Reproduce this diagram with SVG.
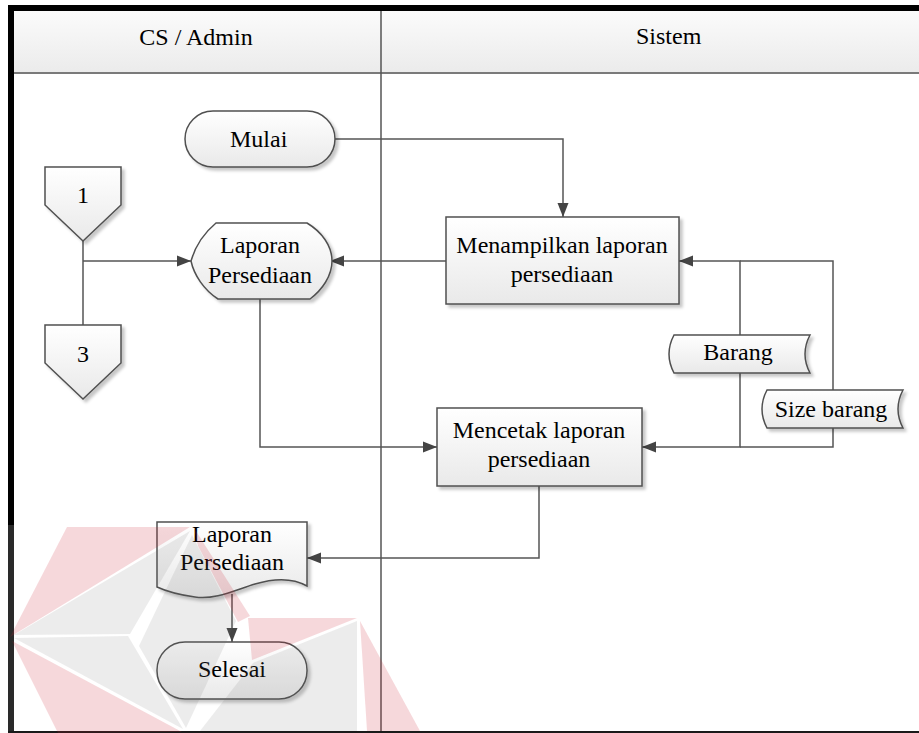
<svg xmlns="http://www.w3.org/2000/svg" width="919" height="733" viewBox="0 0 919 733">
  <defs>
    <linearGradient id="shapeFill" x1="0" y1="0" x2="0" y2="1">
      <stop offset="0" stop-color="#ffffff"/>
      <stop offset="1" stop-color="#e9e9e9"/>
    </linearGradient>
    <linearGradient id="headerFill" x1="0" y1="0" x2="0" y2="1">
      <stop offset="0" stop-color="#fbfbfb"/>
      <stop offset="1" stop-color="#ebebeb"/>
    </linearGradient>
    <filter id="shadow" x="-10%" y="-10%" width="130%" height="140%">
      <feDropShadow dx="3" dy="3" stdDeviation="1.5" flood-color="#000" flood-opacity="0.22"/>
    </filter>
    <marker id="arrowHead" markerUnits="userSpaceOnUse" markerWidth="14" markerHeight="12" refX="14" refY="6" orient="auto">
      <path d="M0,0.5 L14,6 L0,11.5 Z" fill="#444"/>
    </marker>
  </defs>

  <rect width="919" height="733" fill="#fff"/>

  <!-- swimlane frame -->
  <g id="lanes">
    <rect x="14" y="11" width="905" height="62" fill="url(#headerFill)"/>
    <line x1="14" y1="73" x2="919" y2="73" stroke="#7a7a7a" stroke-width="2"/>
    <line x1="381" y1="11" x2="381" y2="733" stroke="#555" stroke-width="1.5"/>
    <rect x="8" y="5" width="911" height="6" fill="#000"/>
    <rect x="8" y="5" width="6" height="520" fill="#000"/>
    <rect x="8" y="525" width="6" height="208" fill="#2a2a2a"/>
    <rect x="8" y="731" width="911" height="2" fill="#1a1a1a"/>
  </g>
  <text x="196" y="45" font-size="24" font-family="Liberation Serif" text-anchor="middle">CS / Admin</text>
  <text x="636" y="44" font-size="24" font-family="Liberation Serif">Sistem</text>

  <!-- connectors -->
  <g id="connectors" fill="none" stroke="#555" stroke-width="1.5">
    <path d="M335,139 H563 V217" marker-end="url(#arrowHead)"/>
    <path d="M446,261 H330" marker-end="url(#arrowHead)"/>
    <path d="M83,241 V325"/>
    <path d="M83,261 H191" marker-end="url(#arrowHead)"/>
    <path d="M260,299 V447 H437" marker-end="url(#arrowHead)"/>
    <path d="M740,335 V261 H679" marker-end="url(#arrowHead)"/>
    <path d="M833,390 V261 H740"/>
    <path d="M740,373 V447 H642" marker-end="url(#arrowHead)"/>
    <path d="M833,428 V447 H740"/>
    <path d="M539,486 V558 H307" marker-end="url(#arrowHead)"/>
    <path d="M232,594 V642" marker-end="url(#arrowHead)"/>
  </g>

  <!-- nodes -->
  <g id="mulai">
    <rect filter="url(#shadow)" fill="url(#shapeFill)" stroke="#505050" stroke-width="1.5" x="185" y="111" width="150" height="56" rx="28" ry="28"/>
    <text x="230" y="147" font-size="24" font-family="Liberation Serif">Mulai</text>
  </g>

  <g id="offpage-1">
    <path filter="url(#shadow)" fill="url(#shapeFill)" stroke="#505050" stroke-width="1.5" d="M45,167 L121,167 L121,205 L83,241 L45,205 Z"/>
    <text x="83" y="203" font-size="24" font-family="Liberation Serif" text-anchor="middle">1</text>
  </g>

  <g id="offpage-3">
    <path filter="url(#shadow)" fill="url(#shapeFill)" stroke="#505050" stroke-width="1.5" d="M45,325 L121,325 L121,363 L83,399 L45,363 Z"/>
    <text x="83" y="362" font-size="24" font-family="Liberation Serif" text-anchor="middle">3</text>
  </g>

  <g id="display-laporan">
    <path filter="url(#shadow)" fill="url(#shapeFill)" stroke="#505050" stroke-width="1.5" d="M216,223 L307,223 C322,232 332,246 332,261 C332,276 322,290 310,299 L218,299 C204,290 194,275 191,261 C195,247 204,233 216,223 Z"/>
    <text x="260" y="253" font-size="24" font-family="Liberation Serif" text-anchor="middle">Laporan</text>
    <text x="260" y="283" font-size="24" font-family="Liberation Serif" text-anchor="middle">Persediaan</text>
  </g>

  <g id="menampilkan">
    <rect filter="url(#shadow)" fill="url(#shapeFill)" stroke="#505050" stroke-width="1.5" x="446" y="217" width="233" height="87"/>
    <text x="562" y="253" font-size="24" font-family="Liberation Serif" text-anchor="middle">Menampilkan laporan</text>
    <text x="562" y="282" font-size="24" font-family="Liberation Serif" text-anchor="middle">persediaan</text>
  </g>

  <g id="barang">
    <path filter="url(#shadow)" fill="url(#shapeFill)" stroke="#505050" stroke-width="1.5" d="M674,335 L810,335 Q800,354 810,373 L674,373 Q664,354 674,335 Z"/>
    <text x="738" y="360" font-size="24" font-family="Liberation Serif" text-anchor="middle">Barang</text>
  </g>

  <g id="size-barang">
    <path filter="url(#shadow)" fill="url(#shapeFill)" stroke="#505050" stroke-width="1.5" d="M767,390 L903,390 Q893,409 903,428 L767,428 Q757,409 767,390 Z"/>
    <text x="831" y="417" font-size="24" font-family="Liberation Serif" text-anchor="middle">Size barang</text>
  </g>

  <g id="mencetak">
    <rect filter="url(#shadow)" fill="url(#shapeFill)" stroke="#505050" stroke-width="1.5" x="437" y="408" width="205" height="78"/>
    <text x="539" y="438" font-size="24" font-family="Liberation Serif" text-anchor="middle">Mencetak laporan</text>
    <text x="539" y="467" font-size="24" font-family="Liberation Serif" text-anchor="middle">persediaan</text>
  </g>

  <g id="dokumen-laporan">
    <path filter="url(#shadow)" fill="url(#shapeFill)" stroke="#505050" stroke-width="1.5" d="M157,522 L307,522 L307,586 C293,578 275,578 255,584 C235,590 215,600 195,597 C180,595 168,592 157,587 Z"/>
    <text x="232" y="542" font-size="24" font-family="Liberation Serif" text-anchor="middle">Laporan</text>
    <text x="232" y="570" font-size="24" font-family="Liberation Serif" text-anchor="middle">Persediaan</text>
  </g>

  <g id="selesai">
    <rect filter="url(#shadow)" fill="url(#shapeFill)" stroke="#505050" stroke-width="1.5" x="157" y="642" width="150" height="57" rx="28" ry="28"/>
    <text x="232" y="677" font-size="24" font-family="Liberation Serif" text-anchor="middle">Selesai</text>
  </g>

  <!-- translucent logo mark across the lower left -->
  <g id="logo-mark">
    <polygon fill="rgb(205,40,55)" fill-opacity="0.18" points="10,637 67,527 190,527"/>
    <polygon fill="rgb(205,40,55)" fill-opacity="0.18" points="194,528 250,616 238,622 198,546"/>
    <polygon fill="rgb(205,40,55)" fill-opacity="0.18" points="12,641 182,732 58,733"/>
    <polygon fill="rgb(205,40,55)" fill-opacity="0.18" points="248,618 357,618 252,660"/>
    <polygon fill="rgb(205,40,55)" fill-opacity="0.18" points="360,621 420,731 367,731"/>
    <polygon fill="rgb(110,110,110)" fill-opacity="0.13" points="14,635 190,531 130,634"/>
    <polygon fill="rgb(110,110,110)" fill-opacity="0.13" points="192,535 236,621 186,728 139,646"/>
    <polygon fill="rgb(110,110,110)" fill-opacity="0.13" points="14,638 128,636 183,729"/>
    <polygon fill="rgb(110,110,110)" fill-opacity="0.13" points="357,621 357,731 200,731 253,663"/>
  </g>
</svg>
